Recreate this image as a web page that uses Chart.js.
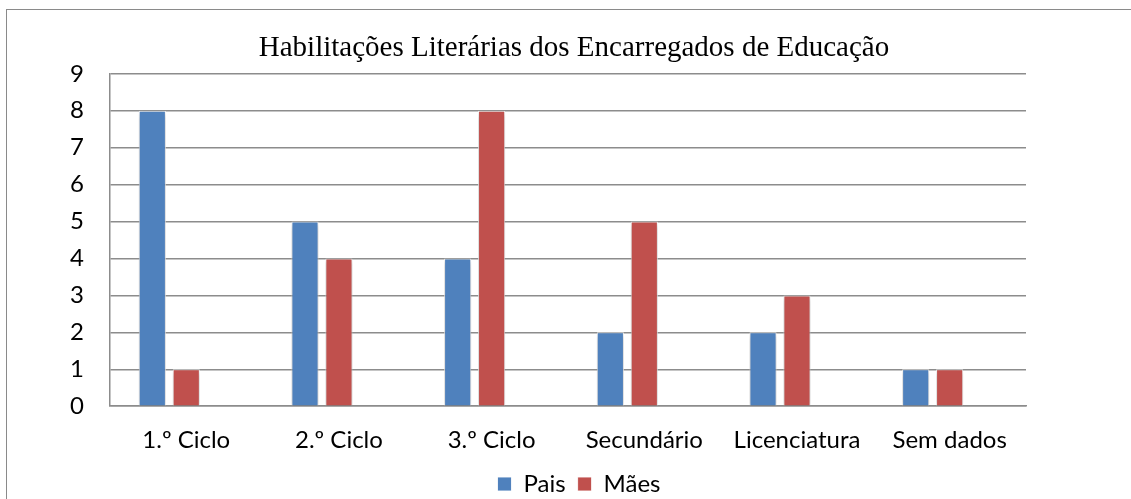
<!DOCTYPE html>
<html>
<head>
<meta charset="utf-8">
<script src="https://cdn.jsdelivr.net/npm/chart.js@4.4.0/dist/chart.umd.min.js"></script>
<style>
  html, body { margin: 0; padding: 0; background: #fff; overflow: hidden; width: 1131px; height: 499px; }
  #frame { position: absolute; left: 6px; top: 9px; width: 1200px; height: 600px; border: 1px solid #8a8a8a; box-sizing: border-box; }
  #wrap { position: absolute; left: 0; top: 0; width: 1158px; height: 521px; }
</style>
</head>
<body>
<div id="frame"></div>
<div id="wrap"><canvas id="c" width="1158" height="521"></canvas></div>
<script>
const categories = ['1.º Ciclo', '2.º Ciclo', '3.º Ciclo', 'Secundário', 'Licenciatura', 'Sem dados'];
const pais = [8, 5, 4, 2, 2, 1];
const maes = [1, 4, 8, 5, 3, 1];
const spacer = [null, null, null, null, null, null];
const yTicks = [0, 1, 2, 3, 4, 5, 6, 7, 8, 9];

const shadowPlugin = {
  id: 'barShadow',
  beforeDatasetsDraw(chart) {
    const ctx = chart.ctx;
    ctx.save();
    ctx.shadowColor = 'rgba(0,0,0,0.28)';
    ctx.shadowBlur = 6;
    ctx.shadowOffsetX = 0;
    ctx.shadowOffsetY = 2;
  },
  afterDatasetsDraw(chart) {
    chart.ctx.restore();
  }
};

// shift title and legend to match the reference placement
const shiftPlugin = {
  id: 'shiftBlocks',
  afterLayout(chart) {
    if (chart.titleBlock) { chart.titleBlock.left += 39; chart.titleBlock.right += 39; }
    if (chart.legend) {
      chart.legend.left += 44; chart.legend.right += 44;
      chart.legend.top -= 15; chart.legend.bottom -= 15;
    }
  }
};

const gridColor = '#8c8c8c';

new Chart(document.getElementById('c'), {
  type: 'bar',
  data: {
    labels: categories,
    datasets: [
      { label: 'Pais', data: pais, backgroundColor: '#4F81BD', borderColor: 'rgba(255,255,255,0.85)', borderWidth: 1 },
      { label: 'Mães', data: maes, backgroundColor: '#C0504D', borderColor: 'rgba(255,255,255,0.85)', borderWidth: 1 },
      { label: '', data: spacer, backgroundColor: 'rgba(0,0,0,0)' }
    ]
  },
  plugins: [shadowPlugin, shiftPlugin],
  options: {
    responsive: false,
    animation: false,
    datasets: { bar: { categoryPercentage: 0.667, barPercentage: 0.8 } },
    layout: { padding: { left: 44, right: 132, top: 0, bottom: 0 } },
    plugins: {
      tooltip: { enabled: false },
      title: {
        display: true,
        text: 'Habilitações Literárias dos Encarregados de Educação',
        font: { family: '"Liberation Serif", "Times New Roman", serif', size: 29, weight: 'normal' },
        color: '#000',
        padding: { top: 31, bottom: 8 }
      },
      legend: {
        position: 'bottom',
        labels: {
          filter: (item) => item.datasetIndex < 2,
          boxWidth: 14,
          boxHeight: 14,
          padding: 12,
          color: '#000',
          font: { family: 'Lato', size: 24 }
        }
      }
    },
    scales: {
      x: {
        grid: { display: false, drawTicks: false },
        border: { display: true, color: gridColor, width: 1.5 },
        ticks: { color: '#000', padding: 20, font: { family: 'Lato', size: 24 }, maxRotation: 0 }
      },
      y: {
        min: 0, max: 9,
        afterBuildTicks: (axis) => { axis.ticks = yTicks.map(v => ({ value: v })); },
        grid: { color: gridColor, lineWidth: 1.5, drawTicks: false },
        border: { display: true, color: gridColor, width: 1.5 },
        ticks: { color: '#000', padding: 26, font: { family: 'Lato', size: 24 } }
      }
    }
  }
});
</script>
</body>
</html>
